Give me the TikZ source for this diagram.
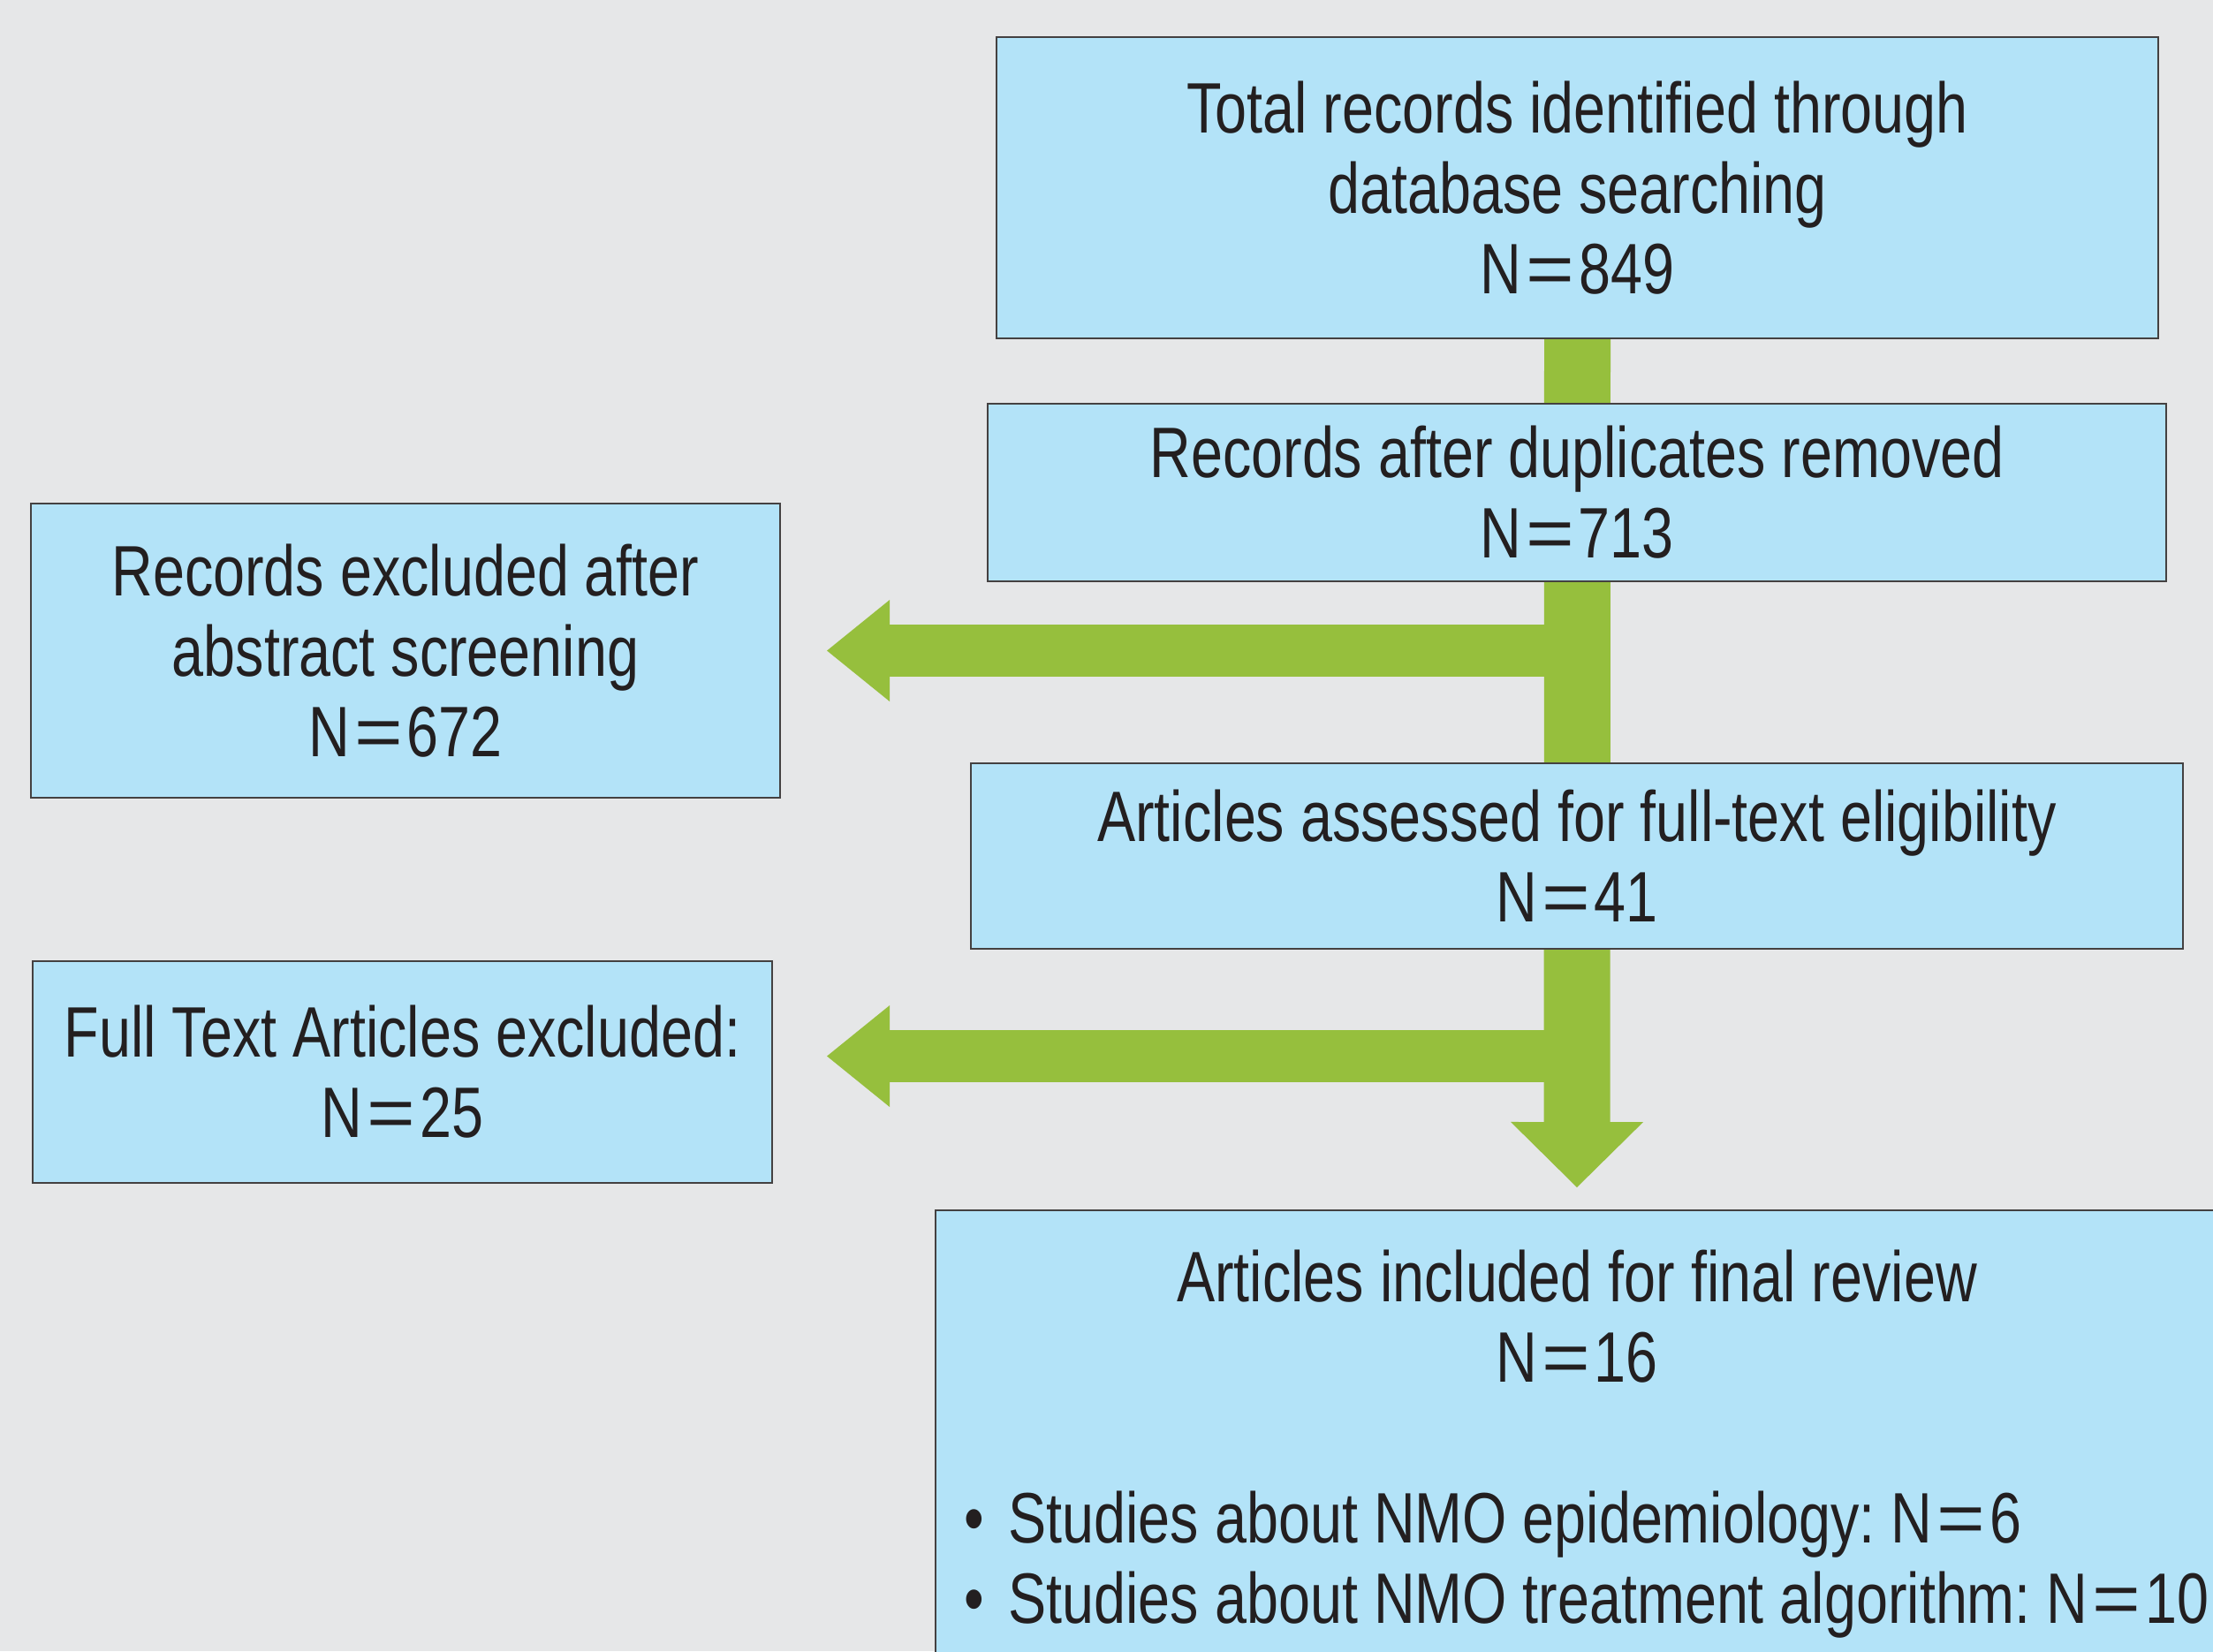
\documentclass[tikz,border=0pt]{standalone}
\usepackage{fontspec}
\setmainfont[FakeStretch=0.8]{Liberation Sans}
\usepackage{graphicx}
\usepackage{tikz}
\usetikzlibrary{arrows.meta,backgrounds}
\definecolor{bggrey}{HTML}{E6E7E8}
\definecolor{boxblue}{HTML}{B3E3F8}
\definecolor{flowgreen}{HTML}{96BF3D}
\definecolor{inkgrey}{HTML}{231F20}
\newcommand{\Nis}{N\kern.05cm\scalebox{1.45}[1]{=}\kern.05cm}
\newcommand{\bul}{\textbullet\ \kern.1cm}

\begin{document}
\begin{tikzpicture}
    \tikzstyle{every node}+=[inner sep=0pt, text=inkgrey, font=\fontsize{23}{25.9}\selectfont]
    \tikzstyle{box}=[draw=inkgrey!85, line width=0.6pt, fill=boxblue, align=center]
    \tikzstyle{flow}=[draw=flowgreen, line width=0.75cm]
    \useasboundingbox (0,0) rectangle (25.05,-18.69);
    \node [box, minimum width=13.15cm, minimum height=3.41cm] (total) at (17.855,-2.125) {Total records identified through\\database searching\\\Nis849};
    \node [box, minimum width=13.34cm, minimum height=2.01cm] (dupl) at (17.85,-5.575) {Records after duplicates removed\\\Nis713};
    \node [box, minimum width=8.48cm, minimum height=3.33cm] (excl1) at (4.59,-7.365) {Records excluded after\\abstract screening\\\Nis672};
    \node [box, minimum width=13.72cm, minimum height=2.10cm] (assess) at (17.85,-9.69) {Articles assessed for full-text eligibility\\\Nis41};
    \node [box, minimum width=8.37cm, minimum height=2.51cm] (excl2) at (4.555,-12.135) {Full Text Articles excluded:\\\Nis25};
    \node [box, anchor=north, text width=13.88cm, inner xsep=0.32cm, inner ysep=0.45cm, align=left] (final) at (17.85,-13.69) {\frenchspacing\spaceskip=0pt \xspaceskip=0pt {\centering Articles included for final review\\\Nis16\\\mbox{}\par}\raggedright\mbox{\bul Studies about NMO epidemiology: \Nis6}\\\mbox{\bul Studies about NMO treatment algorithm: \Nis10}};
    \begin{scope}[on background layer]
    \fill [bggrey] (0,0) rectangle (25.05,-18.69);
    \draw [flow, -{Triangle[width=1.5cm,length=0.74cm,line width=0pt]}, shorten >=0.25cm] (total.south) -- (final.north);
    \draw [flow, line width=0.59cm, -{Triangle[width=1.15cm,length=0.71cm,line width=0pt]}, shorten >=0.52cm] (dupl.south |- excl1.east) -- (excl1.east);
    \draw [flow, line width=0.59cm, -{Triangle[width=1.15cm,length=0.71cm,line width=0pt]}, shorten >=0.61cm] ([yshift=0.18cm]excl2.east -| dupl.south) -- ([yshift=0.18cm]excl2.east);
    \end{scope}
\end{tikzpicture}
\end{document}
